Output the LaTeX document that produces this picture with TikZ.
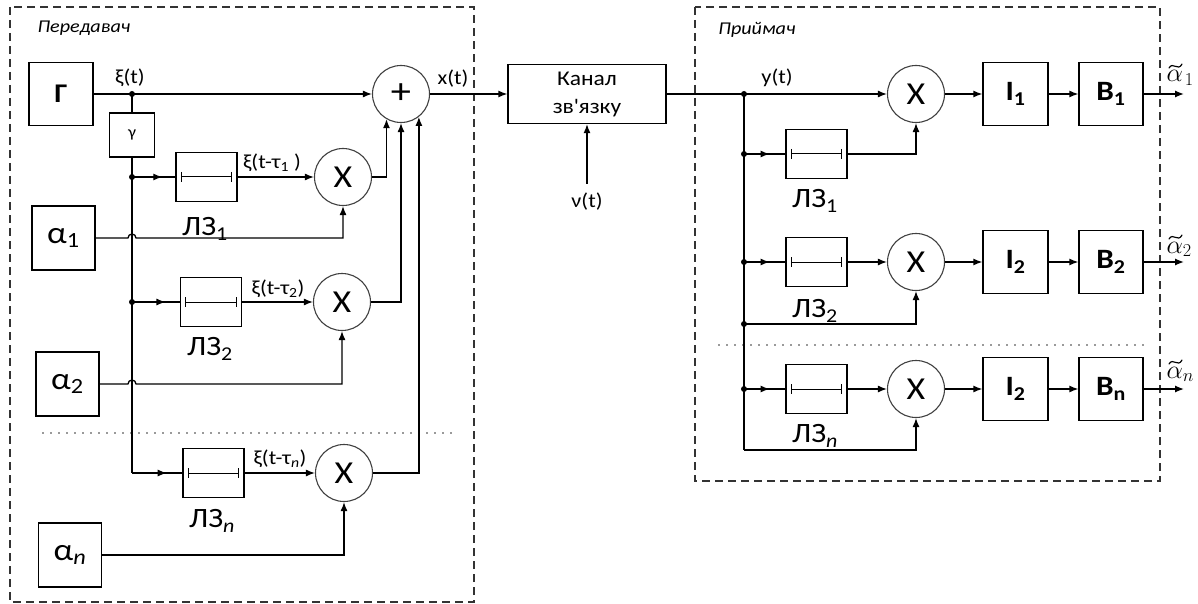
\documentclass[tikz,border=0pt]{standalone}
\usepackage{fix-cm}
\usepackage{fontspec}
\setmainfont{Carlito}[FakeStretch=1.12]
\usetikzlibrary{arrows.meta,decorations.markings,calc}
\newcommand{\myfs}[1]{\fontsize{#1}{#1}\selectfont}
\begin{document}
\begin{tikzpicture}[x=1pt,y=-1pt,
  line width=1.3pt,
  >={Latex[length=9pt,width=7pt]},
  blk/.style={draw, line width=1.3pt, inner sep=0pt},
  dlybox/.style={blk, minimum width=61pt, minimum height=49pt},
  abox/.style={blk, minimum width=63pt, minimum height=64pt, font=\myfs{31}},
  ibox/.style={blk, minimum width=65pt, minimum height=63pt, font=\myfs{28}\bfseries},
  circ/.style={draw=black!75, circle, line width=1.1pt, minimum size=57pt, inner sep=0pt, font=\myfs{32}},
  lbl/.style={font=\myfs{20}, inner sep=0pt},
  dlbl/.style={font=\myfs{28}, inner sep=0pt},
  alab/.style={font=\myfs{26}, inner sep=0pt, anchor=base west},
  tildestroke/.style={line width=1.2pt, line cap=round},
  frame/.style={draw=black!80, dash pattern=on 8pt off 5pt, line width=1.2pt},
  dotsep/.style={draw=black!80, line width=1.6pt, dash pattern=on 0pt off 8pt, line cap=round},
  midarrow/.style={postaction={decorate}, decoration={markings, mark=at position #1 with {\arrow{>}}}},
  midarrow/.default=0.7,
]
\useasboundingbox (0,0) rectangle (1198,604);
% frames
\draw[frame] (10,7) rectangle (474,602);
\draw[frame] (695,7) rectangle (1160,481);
\node[font=\myfs{18}\itshape] (tx) at (84,28) {Передавач};
\node[font=\myfs{18}\itshape] (rx) at (757,30) {Приймач};
% ---------- transmitter
\node[blk, minimum width=64pt, minimum height=63pt, font=\myfs{27}\bfseries] (G) at (61,94) {Г};
\coordinate (j0) at (132,94);
\node[blk, minimum width=45pt, minimum height=44pt, font=\myfs{16}] (gam) at (132,135) {γ};
\coordinate (j1) at (132,177);
\coordinate (j2) at (132,302);
\coordinate (cn) at (132,473);
\node[circ, font=\myfs{36}] (plus) at (401,94) {+};
\node[dlybox] (d1) at (206.5,177) {};
\node[dlybox] (d2) at (211,302) {};
\node[dlybox] (dn) at (213.5,473) {};
\node[circ] (m1) at (343,177) {X};
\node[circ] (m2) at (342,302) {X};
\node[circ] (mn) at (344,473) {X};
\node[abox] (a1) at (63.5,238) {α\textsubscript{1}};
\node[abox] (a2) at (67.5,384) {α\textsubscript{2}};
\node[abox] (an) at (70,555) {α\textsubscript{\textit{n}}};
\node[dlbl] (l1) at (205,229) {ЛЗ\textsubscript{1}};
\node[dlbl] (l2) at (210,349) {ЛЗ\textsubscript{2}};
\node[dlbl] (ln) at (212,521) {ЛЗ\textsubscript{\textit{n}}};
\node[lbl] (xi) at (130,78) {ξ(t)};
\node[lbl] (xi1) at (272,163) {ξ(t-τ\textsubscript{1} )};
\node[lbl] (xi2) at (278,289) {ξ(t-τ\textsubscript{2})};
\node[lbl] (xin) at (280,459) {ξ(t-τ\textsubscript{\textit{n}})};
\node[lbl] (xt) at (453,79) {x(t)};
% ---------- channel
\node[blk, minimum width=158pt, minimum height=59pt, font=\myfs{21}, align=center] (ch) at (587,94)
  {Канал\\[7pt]зв\textquotesingle язку};
\node[lbl] (nu) at (587,202) {ν(t)};
% ---------- receiver
\node[lbl] (yt) at (777,78) {y(t)};
\coordinate (r0) at (744,94);
\coordinate (r1) at (744,154);
\coordinate (r2) at (744,262);
\coordinate (r3) at (744,324);
\coordinate (r4) at (744,389);
\coordinate (r5) at (744,450);
\node[circ] (rm1) at (916,94) {X};
\node[circ] (rm2) at (916,262) {X};
\node[circ] (rmn) at (916,389) {X};
\node[dlybox] (rd1) at (816.5,154) {};
\node[dlybox] (rd2) at (816.5,262) {};
\node[dlybox] (rdn) at (816.5,389) {};
\node[dlbl] (rl1) at (815,201) {ЛЗ\textsubscript{1}};
\node[dlbl] (rl2) at (815,311) {ЛЗ\textsubscript{2}};
\node[dlbl] (rln) at (815,436) {ЛЗ\textsubscript{\textit{n}}};
\node[ibox] (I1) at (1015.5,94) {I\textsubscript{1}};
\node[ibox] (I2) at (1015.5,262) {I\textsubscript{2}};
\node[ibox] (In) at (1015.5,389) {I\textsubscript{2}};
\node[ibox, minimum width=64pt] (B1) at (1111,94) {B\textsubscript{1}};
\node[ibox, minimum width=64pt] (B2) at (1111,262) {B\textsubscript{2}};
\node[ibox, minimum width=64pt] (Bn) at (1111,389) {B\textsubscript{n}};
\coordinate (o1) at (1184,94);
\coordinate (o2) at (1184,262);
\coordinate (o3) at (1184,389);
% output estimates (alpha with a drawn tilde)
\node[alab] (al1) at (1166,82) {$\alpha_{\mkern2mu 1}$};
\node[alab] (al2) at (1166,253) {$\alpha_{2}$};
\node[alab] (aln) at (1166,378) {$\alpha_{n}$};
\foreach \a in {al1,al2,aln}{
  \coordinate (t) at ($(\a.base west)+(3,-16)$);
  \draw[tildestroke] ($(t)+(0,2)$) .. controls ($(t)+(4,-5)$) and ($(t)+(9,6)$) .. ($(t)+(13,-2)$);
}
% delay symbols
\foreach \d in {d1,d2,dn,rd1,rd2,rdn}{
  \draw[line width=1pt] ([xshift=6pt]\d.west) -- ([xshift=-6pt]\d.east);
  \draw[line width=1pt] ([xshift=6pt,yshift=5pt]\d.west) -- ([xshift=6pt,yshift=-5pt]\d.west);
  \draw[line width=1pt] ([xshift=-6pt,yshift=5pt]\d.east) -- ([xshift=-6pt,yshift=-5pt]\d.east);
}
% dotted separators
\draw[dotsep] (43,433) -- (452,433);
\draw[dotsep] (719,345) -- (1145,345);
% ---------- transmitter connectors
\draw (G.east) -- (j0);
\draw[->] (j0) -- (plus.west);
\draw (j0) -- (gam.north);
\draw (gam.south) -- (cn);
\draw[midarrow] (j1) -- (d1.west);
\draw[midarrow] (j2) -- (d2.west);
\draw[midarrow=0.69] (cn) -- (dn.west);
\draw[->] (d1.east) -- (m1.west);
\draw[->] (d2.east) -- (m2.west);
\draw[->] (dn.east) -- (mn.west);
\draw[->] (m1.east) -| (plus.-120);
\draw[->] (m2.east) -| (plus.south);
\draw[->] (mn.east) -| (plus.-52);
\draw[->] (a1.east) -- ($(a1.east -| j1)+(-4,0)$) arc[start angle=180,end angle=0,radius=4pt] -| (m1.south);
\draw[->] (a2.east) -- ($(a2.east -| j1)+(-4,0)$) arc[start angle=180,end angle=0,radius=4pt] -| (m2.south);
\draw[->] (an.east) -| (mn.south);
% ---------- channel connectors
\draw[->] (plus.east) -- (ch.west);
\draw[->] ([yshift=9pt]nu.north) -- (ch.south);
\draw[->] (ch.east) -- (rm1.west);
% ---------- receiver connectors
\draw (r0) -- (r5);
\draw[midarrow=0.62] (r1) -- (rd1.west);
\draw[midarrow=0.62] (r2) -- (rd2.west);
\draw[midarrow=0.62] (r4) -- (rdn.west);
\draw[->] (rd1.east) -| (rm1.south);
\draw[->] (rd2.east) -- (rm2.west);
\draw[->] (rdn.east) -- (rmn.west);
\draw[->] (r3) -| (rm2.south);
\draw[->] (r5) -| (rmn.south);
\draw[->] (rm1.east) -- (I1.west);
\draw[->] (rm2.east) -- (I2.west);
\draw[->] (rmn.east) -- (In.west);
\draw[->] (I1.east) -- (B1.west);
\draw[->] (I2.east) -- (B2.west);
\draw[->] (In.east) -- (Bn.west);
\draw[->] (B1.east) -- (o1);
\draw[->] (B2.east) -- (o2);
\draw[->] (Bn.east) -- (o3);
% junction dots
\foreach \p in {j0,j1,j2,r0,r1,r2,r3,r4}{ \fill (\p) circle (3pt); }
\end{tikzpicture}
\end{document}
